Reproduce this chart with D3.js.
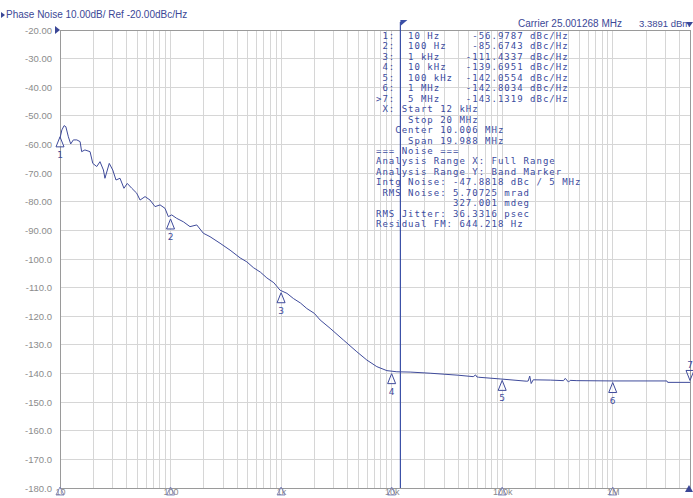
<!DOCTYPE html>
<html><head><meta charset="utf-8">
<script src="https://cdn.jsdelivr.net/npm/d3@7"></script>
<style>
html,body{margin:0;padding:0;background:#fff;}
svg{display:block;}
</style></head>
<body>
<svg id="chart" width="693" height="498"></svg>
<script>
// ---- data ----
const freqs = [10, 10.4, 10.9, 11.3, 11.9, 12.5, 13.2, 14.2, 15.2, 15.7, 16.8, 18.7, 19.8, 21.5, 23.0, 24.7, 25.5, 27.9, 30.0, 32.1, 34.9, 37.9, 40.6, 44.6, 49.4, 53.0, 58.8, 65.2, 72.4, 80.4, 89.1, 95.5, 102.5, 113.7, 130.6, 150, 172.6, 198, 227.6, 280.5, 345.5, 425.6, 490, 561, 650, 743, 860, 979, 1130, 1292, 1500, 1709, 2000, 2254, 2775, 3664, 4842, 5966, 7345, 9057, 11150, 14700, 22290, 40000, 54700, 57500, 59000, 61000, 95900, 167000, 172000, 177500, 183000, 191000, 272000, 359000, 372000, 398000, 412000, 474000, 1010000, 3090000, 3140000, 5020000];
const phaseNoise = [-57.8, -54.9, -53.4, -53.8, -57.3, -59.8, -58.4, -58.4, -59.0, -62.5, -61.9, -62.5, -66.6, -67.7, -66.0, -68.9, -71.8, -66.6, -68.9, -72.4, -71.8, -75.3, -73.6, -75.3, -77.0, -79.4, -78.2, -79.4, -81.7, -81.1, -82.3, -85.2, -84.6, -85.8, -87.0, -88.7, -88.1, -91.0, -92.2, -94.5, -96.9, -99.6, -101.0, -103.0, -104.6, -106.6, -108.3, -110.9, -112.0, -113.8, -115.4, -117.3, -119.0, -121.3, -124.2, -128.3, -132.4, -135.3, -137.6, -139.0, -139.4, -139.5, -139.9, -140.6, -141.1, -140.5, -141.2, -141.3, -141.9, -142.7, -142.6, -140.9, -143.5, -142.2, -142.3, -142.5, -141.7, -143.0, -142.4, -142.5, -142.6, -142.6, -143.1, -143.1];

const markerIds = ["1", "2", "3", "4", "5", "6", "7"];
const markerFreqs = [10, 100, 1000, 10000, 100000, 1000000, 5000000];
const markerValues = [-56.9787, -85.6743, -111.4337, -139.6951, -142.0554, -142.8034, -143.1319];

const yTicks = [-20, -30, -40, -50, -60, -70, -80, -90, -100, -110, -120, -130, -140, -150, -160, -170, -180];
const yTickLabels = ["-20.00", "-30.00", "-40.00", "-50.00", "-60.00", "-70.00", "-80.00", "-90.00", "-100.0", "-110.0", "-120.0", "-130.0", "-140.0", "-150.0", "-160.0", "-170.0", "-180.0"];
const xTicks = [10, 100, 1000, 10000, 100000, 1000000];
const xTickLabels = ["10", "100", "1k", "10k", "100k", "1M"];

const bandStart = 12000;

const tableLines = [
  " 1:  10 Hz     -56.9787 dBc/Hz",
  " 2:  100 Hz    -85.6743 dBc/Hz",
  " 3:  1 kHz    -111.4337 dBc/Hz",
  " 4:  10 kHz   -139.6951 dBc/Hz",
  " 5:  100 kHz  -142.0554 dBc/Hz",
  " 6:  1 MHz    -142.8034 dBc/Hz",
  ">7:  5 MHz    -143.1319 dBc/Hz",
  " X: Start 12 kHz",
  "     Stop 20 MHz",
  "   Center 10.006 MHz",
  "     Span 19.988 MHz",
  "=== Noise ===",
  "Analysis Range X: Full Range",
  "Analysis Range Y: Band Marker",
  "Intg Noise: -47.8818 dBc / 5 MHz",
  " RMS Noise: 5.70725 mrad",
  "            327.001 mdeg",
  "RMS Jitter: 36.3316 psec",
  "Residual FM: 644.218 Hz"
];

const headerText = "Phase Noise 10.00dB/ Ref -20.00dBc/Hz";
const carrierText = "Carrier 25.001268 MHz";
const powerText = "3.3891 dBm";

// ---- drawing ----
const svg = d3.select("#chart");
const L = 60, R = 690, T = 30, B = 488;
const x = d3.scaleLog().domain([10, 5e6]).range([L, R]);
const y = d3.scaleLinear().domain([-180, -20]).range([B, T]);

const navy = "#3b4796";
const trace = "#3f4b9b";
const gridC = "#d6d6d6";

// grid
const minor = [];
for (let e = 1; e <= 6; e++) for (let k = 1; k <= 9; k++) { const f = k * Math.pow(10, e); if (f >= 10 && f <= 5e6) minor.push(f); }
svg.append("g").selectAll("line").data(minor).join("line")
  .attr("x1", d => x(d)).attr("x2", d => x(d)).attr("y1", T).attr("y2", B)
  .attr("stroke", gridC).attr("stroke-width", 1).attr("shape-rendering", "crispEdges");
svg.append("g").selectAll("line").data(yTicks).join("line")
  .attr("x1", L).attr("x2", R).attr("y1", d => y(d)).attr("y2", d => y(d))
  .attr("stroke", gridC).attr("stroke-width", 1).attr("shape-rendering", "crispEdges");

// frame
svg.append("rect").attr("x", L).attr("y", T).attr("width", R - L).attr("height", B - T)
  .attr("fill", "none").attr("stroke", "#9a9a9a").attr("shape-rendering", "crispEdges");

// y labels
const yAxis = d3.axisLeft(y).tickValues(yTicks).tickSize(0).tickPadding(8)
  .tickFormat((d, i) => yTickLabels[i]);
const gy = svg.append("g").attr("transform", `translate(${L},0)`).call(yAxis);
gy.select(".domain").remove();
gy.selectAll("text").attr("fill", "#8c8c8c").style("font-family", "Liberation Sans, Arial, sans-serif").style("font-size", "9.5px");

// x labels
const xAxis = d3.axisBottom(x).tickValues(xTicks).tickSize(0).tickPadding(1)
  .tickFormat((d, i) => xTickLabels[i]);
const gx = svg.append("g").attr("transform", `translate(0,${B})`).call(xAxis);
gx.select(".domain").remove();
gx.selectAll("text").attr("fill", "#8a8a8a").style("font-family", "Liberation Sans, Arial, sans-serif").style("font-size", "9px");
// small triangles on x-axis
svg.append("g").selectAll("path").data(xTicks).join("path")
  .attr("d", d => `M${x(d)},${B - 1} l-4,8 l8,0 Z`)
  .attr("fill", "none").attr("stroke", "#7a80b8").attr("stroke-width", 0.9);
svg.append("path").attr("d", `M${R - 1},${B - 3} l-4,7 l8,0 Z`).attr("fill", navy);

// band start line
svg.append("line").attr("x1", x(bandStart)).attr("x2", x(bandStart)).attr("y1", 22).attr("y2", B)
  .attr("stroke", "#3a4fa6").attr("stroke-width", 1.2);
svg.append("path").attr("d", `M${x(bandStart)},20 l7,0 l-7,6 Z`).attr("fill", "#3a4fa6");

// trace
const line = d3.line().x((d, i) => x(freqs[i])).y(d => y(d));
svg.append("path").datum(phaseNoise).attr("d", line)
  .attr("fill", "none").attr("stroke", trace).attr("stroke-width", 1).attr("stroke-linejoin", "round");

// markers
const mk = svg.append("g");
markerIds.forEach((id, i) => {
  const mx = x(markerFreqs[i]), my = y(markerValues[i]);
  if (i === 6) {
    mk.append("path").attr("d", `M${mx - 4},${my - 12} l8,0 l-4,10 Z`).attr("fill", "none").attr("stroke", trace).attr("stroke-width", 1);
    mk.append("text").attr("x", mx).attr("y", my - 14).attr("text-anchor", "middle")
      .attr("fill", trace).style("font-family", "DejaVu Sans, sans-serif").style("font-size", "9px").text(id);
  } else {
    mk.append("path").attr("d", `M${mx},${my + 1} l-4,10 l8,0 Z`).attr("fill", "#fff").attr("fill-opacity", 0.6).attr("stroke", trace).attr("stroke-width", 1);
    mk.append("text").attr("x", mx).attr("y", my + 22).attr("text-anchor", "middle")
      .attr("fill", trace).style("font-family", "DejaVu Sans, sans-serif").style("font-size", "9px").text(id);
  }
});

// header
svg.append("path").attr("d", "M1,12 l4,3 l-4,3 Z").attr("fill", navy);
svg.append("text").attr("x", 6).attr("y", 18).attr("fill", navy)
  .style("font-family", "Liberation Sans, Arial, sans-serif").style("font-size", "10px").text(headerText);
svg.append("path").attr("d", `M55,${T - 4} l5,4 l-5,4 Z`).attr("fill", navy);
svg.append("text").attr("x", 518).attr("y", 27).attr("fill", navy)
  .style("font-family", "Liberation Sans, Arial, sans-serif").style("font-size", "10px").text(carrierText);
svg.append("text").attr("x", 639).attr("y", 27).attr("fill", navy)
  .style("font-family", "Liberation Sans, Arial, sans-serif").style("font-size", "9.5px").text(powerText);
svg.append("path").attr("d", `M686,22 l7,0 l-3.5,5 Z`).attr("fill", navy);

// table
svg.append("g").selectAll("text").data(tableLines).join("text")
  .attr("x", 376).attr("y", (d, i) => 39 + i * 10.45)
  .attr("fill", "#3a4a9e")
  .style("font-family", "DejaVu Sans Mono, monospace").style("font-size", "9px")
  .style("letter-spacing", "1px")
  .style("white-space", "pre").attr("xml:space", "preserve")
  .text(d => d);
</script>
</body></html>
